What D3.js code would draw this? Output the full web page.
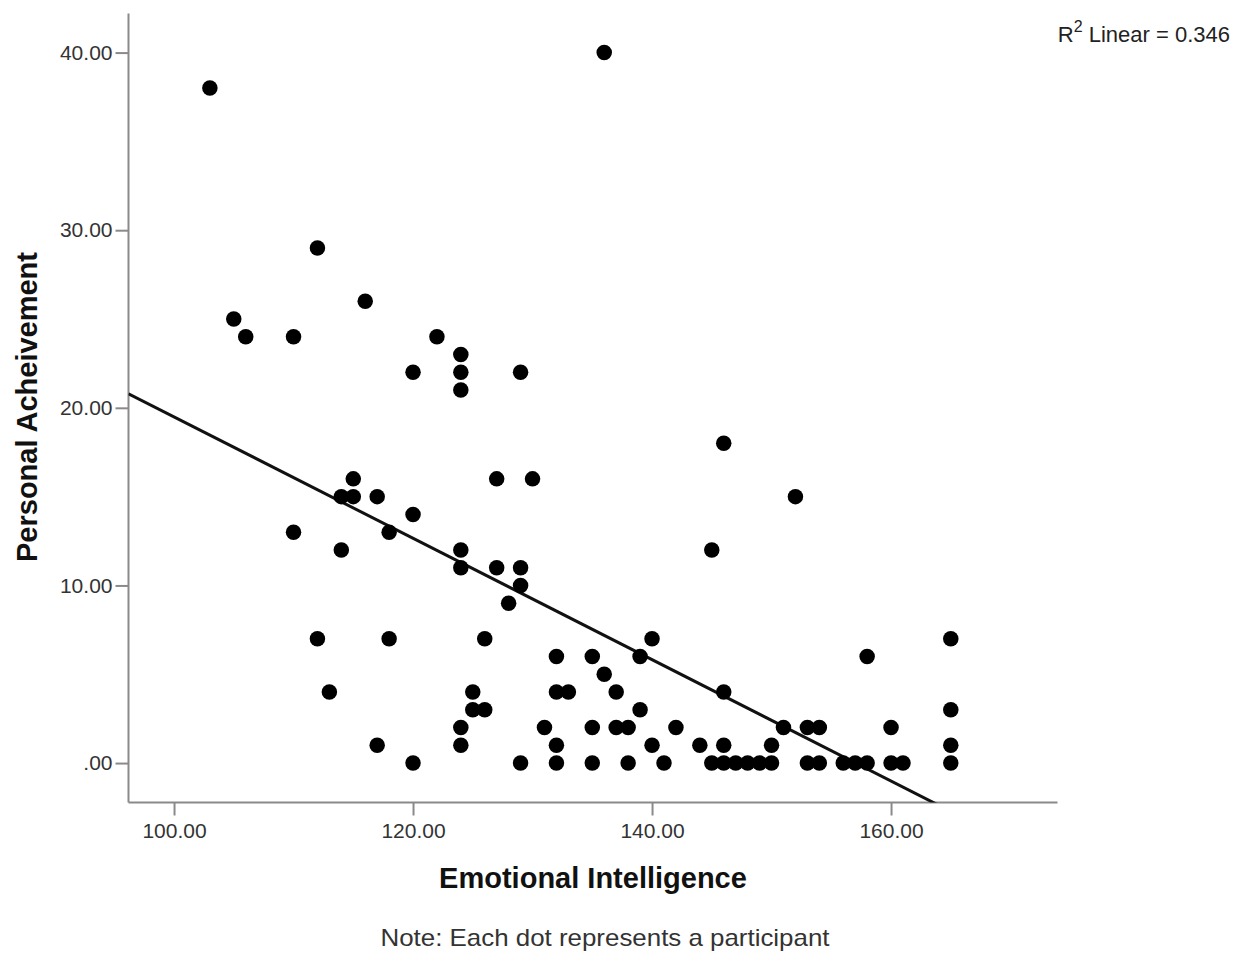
<!DOCTYPE html>
<html>
<head>
<meta charset="utf-8">
<script src="https://cdn.jsdelivr.net/npm/d3@7"></script>
<style>
  html, body { margin: 0; padding: 0; background: #fff; }
  svg { display: block; }
  text { font-family: "Liberation Sans", Arial, sans-serif; }
</style>
</head>
<body>
<svg id="chart" width="1241" height="953"></svg>
<script>
// ---- data ----
const emotionalIntelligence = [
  103,112,105,106,110,116,120,136,122,124,124,124,129,
  115,114,115,117,120,110,118,114,112,118,113,117,120,
  127,130,146,152,145,124,124,127,129,129,128,126,140,139,132,135,136,
  125,132,133,137,146,125,126,139,124,131,135,137,138,142,151,153,154,
  124,132,140,144,146,150,
  129,132,135,138,141,145,146,147,148,149,150,153,154,
  165,158,165,160,165,165,156,157,158,160,161
];
const personalAchievement = [
  38,29,25,24,24,26,22,40,24,23,22,21,22,
  16,15,15,15,14,13,13,12,7,7,4,1,0,
  16,16,18,15,12,12,11,11,11,10,9,7,7,6,6,6,5,
  4,4,4,4,4,3,3,3,2,2,2,2,2,2,2,2,2,
  1,1,1,1,1,1,
  0,0,0,0,0,0,0,0,0,0,0,0,0,
  7,6,3,2,1,0,0,0,0,0,0
];
// fitted line as drawn in the reference (intercept, slope)
const fitIntercept = 53.66;
const fitSlope = -0.3417;
const xTickValues = [100, 120, 140, 160];
const yTickValues = [0, 10, 20, 30, 40];
const xDomain = [96.19, 173.93];
const yDomain = [-2.22, 42.2];
const xTitle = "Emotional Intelligence";
const yTitle = "Personal Acheivement";
const r2Label = "0.346";
const noteText = "Note: Each dot represents a participant";

// ---- layout ----
const plot = { left: 128.5, right: 1057.5, top: 13.5, bottom: 802.5 };
const svg = d3.select("#chart");

const x = d3.scaleLinear().domain(xDomain).range([plot.left, plot.right]);
const y = d3.scaleLinear().domain(yDomain).range([plot.bottom, plot.top]);

const fmt = v => d3.format(".2f")(v).replace(/^0\./, ".");

// clip
svg.append("clipPath").attr("id", "plotclip")
  .append("rect")
  .attr("x", plot.left).attr("y", plot.top)
  .attr("width", plot.right - plot.left).attr("height", plot.bottom - plot.top);

// axes
const axisColor = "#8a8a8a";
const xAxis = d3.axisBottom(x).tickValues(xTickValues).tickFormat(fmt).tickSize(13).tickSizeOuter(0).tickPadding(4);
const yAxis = d3.axisLeft(y).tickValues(yTickValues).tickFormat(fmt).tickSize(13).tickSizeOuter(0).tickPadding(3);

const gx = svg.append("g").attr("transform", `translate(0,${plot.bottom})`).call(xAxis);
const gy = svg.append("g").attr("transform", `translate(${plot.left},0)`).call(yAxis);

[gx, gy].forEach(g => {
  g.select(".domain").attr("stroke", axisColor).attr("stroke-width", 2);
  g.selectAll(".tick line").attr("stroke", axisColor).attr("stroke-width", 2);
  g.selectAll(".tick text")
    .attr("fill", "#333")
    .style("font-family", '"Liberation Sans", Arial, sans-serif')
    .style("font-size", "21px");
});
gx.selectAll(".tick text").attr("dy", "0.9em");
// full-length axis lines
gx.select(".domain").attr("d", `M${plot.left},0H${plot.right}`);
gy.select(".domain").attr("d", `M0,${plot.bottom}V${plot.top}`);

// regression line
svg.append("line")
  .attr("clip-path", "url(#plotclip)")
  .attr("x1", x(xDomain[0])).attr("y1", y(fitIntercept + fitSlope * xDomain[0]))
  .attr("x2", x(xDomain[1])).attr("y2", y(fitIntercept + fitSlope * xDomain[1]))
  .attr("stroke", "#111").attr("stroke-width", 3);

// points
svg.append("g").selectAll("circle")
  .data(emotionalIntelligence.map((v, i) => [v, personalAchievement[i]]))
  .join("circle")
  .attr("cx", d => x(d[0]))
  .attr("cy", d => y(d[1]))
  .attr("r", 7.75)
  .attr("fill", "#000");

// R² label
const rt = svg.append("text")
  .attr("x", 1230).attr("y", 42)
  .attr("text-anchor", "end")
  .attr("fill", "#222")
  .style("font-size", "22px");
rt.append("tspan").text("R");
rt.append("tspan").attr("dy", -10).style("font-size", "16px").text("2");
rt.append("tspan").attr("dy", 10).text(" Linear = " + r2Label);

// axis titles
svg.append("text")
  .attr("x", 593).attr("y", 888)
  .attr("text-anchor", "middle")
  .attr("fill", "#111")
  .style("font-size", "29px").style("font-weight", "bold")
  .text(xTitle);

svg.append("text")
  .attr("transform", `translate(37,407) rotate(-90)`)
  .attr("text-anchor", "middle")
  .attr("fill", "#111")
  .style("font-size", "29px").style("font-weight", "bold")
  .text(yTitle);

// note
svg.append("text")
  .attr("x", 605).attr("y", 946)
  .attr("text-anchor", "middle")
  .attr("fill", "#333")
  .style("font-size", "24px")
  .attr("textLength", 449).attr("lengthAdjust", "spacingAndGlyphs")
  .text(noteText);
</script>
</body>
</html>
